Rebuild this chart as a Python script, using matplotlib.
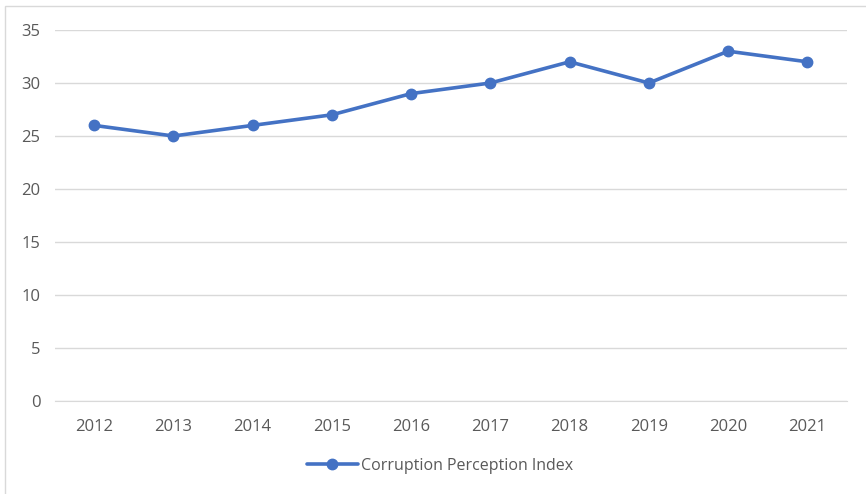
import matplotlib
matplotlib.use("Agg")
import matplotlib.pyplot as plt
from matplotlib.patches import Rectangle

years = ["2012", "2013", "2014", "2015", "2016", "2017", "2018", "2019", "2020", "2021"]
cpi = [26, 25, 26, 27, 29, 30, 32, 30, 33, 32]
y_ticks = [0, 5, 10, 15, 20, 25, 30, 35]

plt.rcParams["font.family"] = ["Open Sans", "DejaVu Sans"]
text_color = "#595959"
line_color = "#4472C4"

W, H = 866, 494
fig = plt.figure(figsize=(W / 100, H / 100), dpi=100, facecolor="white")

# chart border
fig.add_artist(Rectangle((5 / W, -0.05), 1.2, 1 - 6 / H + 0.05, transform=fig.transFigure,
                         fill=False, edgecolor="#D9D9D9", linewidth=1.0))

ax = fig.add_axes([54.5 / W, 1 - 401 / H, (847 - 54.5) / W, (401 - 30) / H])
x = list(range(len(years)))
ax.plot(x, cpi, color=line_color, linewidth=2.6, marker="o", markersize=7.5,
        label="Corruption Perception Index", solid_capstyle="round")
ax.set_xlim(-0.5, len(years) - 0.5)
ax.set_ylim(0, 35)
ax.set_yticks(y_ticks)
ax.set_xticks(x)
ax.set_xticklabels(years)
ax.grid(axis="y", color="#D9D9D9", linewidth=1.0)
ax.set_axisbelow(True)
for s in ["top", "right", "left"]:
    ax.spines[s].set_visible(False)
ax.spines["bottom"].set_color("#D9D9D9")
ax.tick_params(axis="both", length=0, labelsize=12, colors=text_color)
ax.tick_params(axis="x", pad=13)
ax.tick_params(axis="y", pad=10)

leg = fig.legend(loc="center", bbox_to_anchor=(440 / W, 1 - 466 / H), frameon=False,
                 fontsize=11.5, handlelength=3.2, handletextpad=0.2)
for t in leg.get_texts():
    t.set_color(text_color)

fig.savefig("out.png", dpi=100, facecolor="white")
